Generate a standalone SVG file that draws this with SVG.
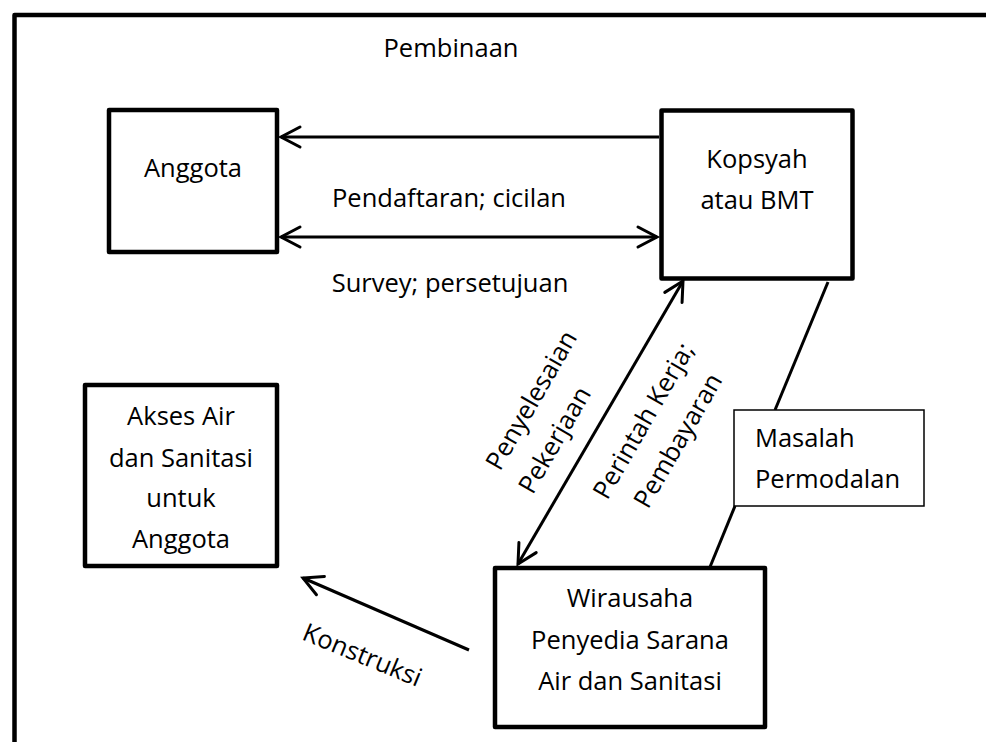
<svg xmlns="http://www.w3.org/2000/svg" width="986" height="742" viewBox="0 0 986 742">
<style>
  text { font-family: "Open Sans", "Noto Sans", "Liberation Sans", sans-serif; font-size: 25.5px; fill: #000; }
  .c { text-anchor: middle; }
  .box { fill: #fff; stroke: #000; stroke-width: 4.5; stroke-linejoin: round; }
  .thin { fill: #fff; stroke: #000; stroke-width: 1.5; }
  .ln { fill: none; stroke: #000; stroke-width: 3; }
</style>
<defs>
  <marker id="arr" markerUnits="userSpaceOnUse" viewBox="-22 -13 26 26" markerWidth="26" markerHeight="26" refX="0" refY="0" orient="auto-start-reverse">
    <path d="M -19,-10 L 0,0 L -19,10" fill="none" stroke="#000" stroke-width="3" stroke-linecap="round" stroke-linejoin="miter"/>
  </marker>
</defs>
<rect width="986" height="742" fill="#fff"/>
<g id="frame">
  <rect x="14.5" y="15" width="1000" height="800" fill="none" stroke="#000" stroke-width="4.5" stroke-linejoin="round"/>
  <text x="451" y="57" class="c">Pembinaan</text>
</g>
<g id="connectors">
  <line class="ln" x1="659" y1="137" x2="281" y2="137" marker-end="url(#arr)"/>
  <line class="ln" x1="281" y1="237" x2="657" y2="237" marker-start="url(#arr)" marker-end="url(#arr)"/>
  <line class="ln" x1="518" y1="564" x2="683" y2="281" marker-start="url(#arr)" marker-end="url(#arr)"/>
  <line class="ln" x1="469" y1="650" x2="303" y2="578" marker-end="url(#arr)"/>
  <line class="ln" x1="828" y1="282" x2="775" y2="410"/>
  <line class="ln" x1="735" y1="506" x2="710" y2="567"/>
  <text x="449" y="207" class="c">Pendaftaran; cicilan</text>
  <text x="450" y="292" class="c">Survey; persetujuan</text>
  <g transform="translate(500,472) rotate(-60)">
    <text x="0" y="0">Penyelesaian</text>
    <text x="-4" y="40">Pekerjaan</text>
  </g>
  <g transform="translate(651,425) rotate(-60)">
    <text x="0" y="0" class="c">Perintah Kerja;</text>
    <text x="0" y="40" class="c">Pembayaran</text>
  </g>
  <g transform="translate(359,663) rotate(22.5)">
    <text x="0" y="0" class="c">Konstruksi</text>
  </g>
</g>
<g id="anggota">
  <rect class="box" x="109" y="110" width="168" height="142"/>
  <text x="193" y="177" class="c">Anggota</text>
</g>
<g id="kopsyah">
  <rect class="box" x="661.5" y="110.5" width="191" height="168"/>
  <text x="757" y="168" class="c">Kopsyah</text>
  <text x="757" y="209" class="c">atau BMT</text>
</g>
<g id="akses">
  <rect class="box" x="85" y="385" width="192" height="181"/>
  <text x="181" y="425" class="c">Akses Air</text>
  <text x="181" y="467" class="c">dan Sanitasi</text>
  <text x="181" y="507" class="c">untuk</text>
  <text x="181" y="548" class="c">Anggota</text>
</g>
<g id="wirausaha">
  <rect class="box" x="495" y="568" width="270" height="159"/>
  <text x="630" y="607" class="c">Wirausaha</text>
  <text x="630" y="649" class="c">Penyedia Sarana</text>
  <text x="630" y="690" class="c">Air dan Sanitasi</text>
</g>
<g id="masalah">
  <rect class="thin" x="734" y="410" width="190" height="96"/>
  <text x="755" y="447">Masalah</text>
  <text x="755" y="488">Permodalan</text>
</g>
</svg>
